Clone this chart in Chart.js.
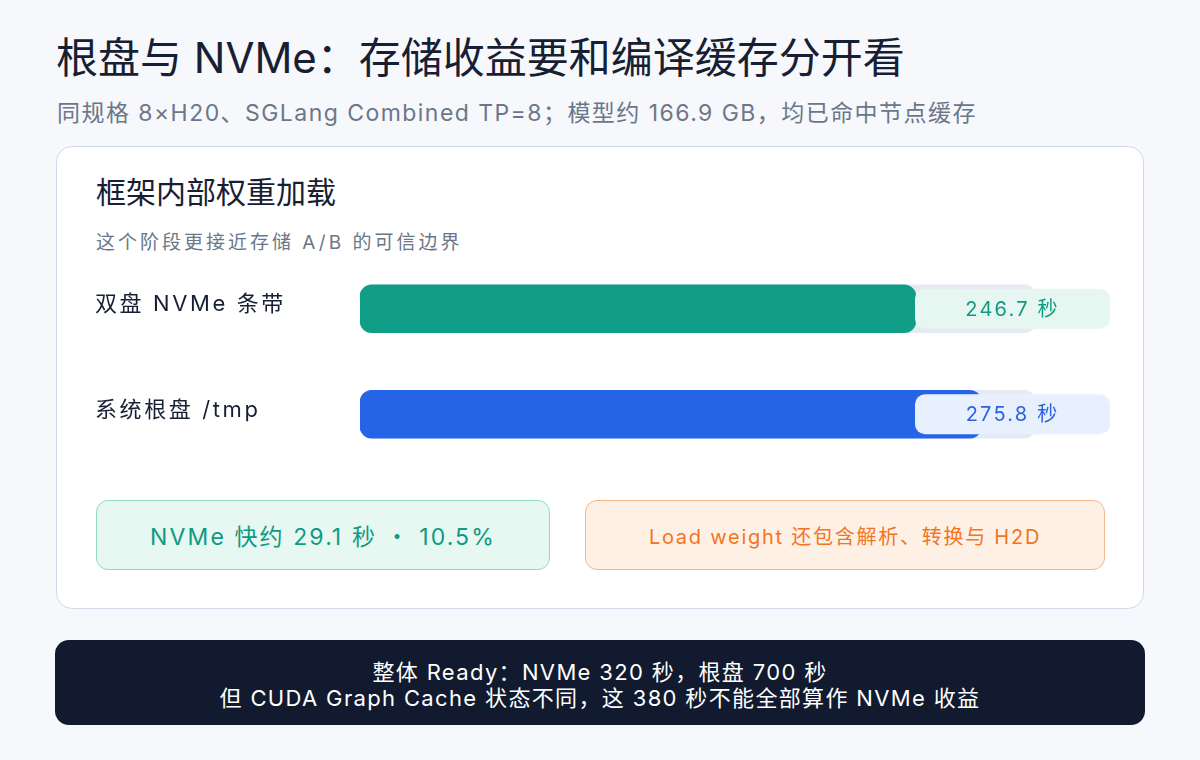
<!DOCTYPE html>
<html>
<head>
<meta charset="utf-8">
<script src="https://cdn.jsdelivr.net/npm/chart.js@4.4.1/dist/chart.umd.min.js"></script>
<style>
  html, body { margin: 0; padding: 0; }
  body {
    width: 1200px; height: 760px; position: relative; overflow: hidden;
    background: #f6f8fc;
    font-family: Inter, "Noto Sans CJK SC", sans-serif;
    color: #172033;
  }
  .abs { position: absolute; white-space: nowrap; }
  #title { left: 56px; top: 30px; font-size: 42px; line-height: 56px; }
  #subtitle { left: 57px; top: 98px; font-size: 23px; line-height: 30px; color: #6b7789; letter-spacing: 1.45px; }
  #card { left: 56px; top: 146px; width: 1088px; height: 463px; background: #fff;
          border: 1.5px solid #cfd9e8; border-radius: 16px; box-sizing: border-box; }
  #cardTitle { left: 96px; top: 172px; font-size: 30px; line-height: 40px; }
  #cardSub { left: 96px; top: 230px; font-size: 19px; line-height: 26px; color: #6b7789; letter-spacing: 3px; }
  .note { top: 500px; height: 70px; box-sizing: border-box; border-radius: 12px;
          display: flex; align-items: center; justify-content: center; }
  #noteA { left: 96px; width: 454px; background: #e7f7f2; border: 1.5px solid #92d9c5;
           color: #0f9a82; font-size: 23px; letter-spacing: 2.1px; }
  #noteB { left: 585px; width: 520px; background: #fff0e6; border: 1.5px solid #f6b587;
           color: #f27522; font-size: 20px; letter-spacing: 1.75px; }
  #banner { left: 55px; top: 640px; width: 1090px; height: 85px; background: #111a2e; border-radius: 14px;
            color: #fff; font-size: 22px; line-height: 26px; text-align: center; letter-spacing: 1.35px;
            display: flex; flex-direction: column; justify-content: center; padding-top: 4px; box-sizing: border-box; }
  #chart { position: absolute; left: 0; top: 0; pointer-events: none; }
</style>
</head>
<body>
<div id="title" class="abs">根盘与 NVMe：存储收益要和编译缓存分开看</div>
<div id="subtitle" class="abs">同规格 8×H20、SGLang Combined TP=8；模型约 166.9 GB，均已命中节点缓存</div>
<div id="card" class="abs"></div>
<div id="cardTitle" class="abs">框架内部权重加载</div>
<div id="cardSub" class="abs">这个阶段更接近存储 A/B 的可信边界</div>
<div id="noteA" class="abs note">NVMe 快约 29.1 秒 ・ 10.5%</div>
<div id="noteB" class="abs note">Load weight 还包含解析、转换与 H2D</div>
<div id="banner" class="abs">
  <div>整体 Ready：NVMe 320 秒，根盘 700 秒</div>
  <div>但 CUDA Graph Cache 状态不同，这 380 秒不能全部算作 NVMe 收益</div>
</div>
<canvas id="chart" width="1200" height="760"></canvas>
<script>
// Data
const categories = ['双盘 NVMe 条带', '系统根盘 /tmp'];
const loadSeconds = [246.7, 275.8];
const valueLabels = ['246.7 秒', '275.8 秒'];
const axisMax = 300;

// Styles
const barColors = ['#109e88', '#2563e7'];
const pillFills = ['#e6f6f1', '#e8f0fd'];
const pillText = ['#119a83', '#2a63e2'];
const trackColor = '#e5eaf3';

// Row labels on the left and value pills on the right, placed from the y scale
const rowDecor = {
    id: 'rowDecor',
    afterDatasetsDraw(chart) {
        const ctx = chart.ctx;
        const yScale = chart.scales.y;
        const xScale = chart.scales.x;
        ctx.save();
        categories.forEach((name, i) => {
            const y = yScale.getPixelForValue(i);
            ctx.fillStyle = '#172033';
            ctx.font = '22px Inter, "Noto Sans CJK SC", sans-serif';
            ctx.letterSpacing = '2.6px';
            ctx.textAlign = 'left';
            ctx.textBaseline = 'middle';
            ctx.fillText(name, 95, y - 4);

            const px = xScale.right - 121;
            const pw = 195, ph = 40;
            ctx.fillStyle = pillFills[i];
            ctx.beginPath();
            ctx.roundRect(px, y - ph / 2, pw, ph, 10);
            ctx.fill();
            ctx.fillStyle = pillText[i];
            ctx.font = '20px Inter, "Noto Sans CJK SC", sans-serif';
            ctx.letterSpacing = '2.2px';
            ctx.textAlign = 'center';
            ctx.fillText(valueLabels[i], px + pw / 2, y + 1);
        });
        ctx.restore();
    }
};

new Chart(document.getElementById('chart'), {
    type: 'bar',
    data: {
        labels: categories,
        datasets: [{
            data: loadSeconds,
            backgroundColor: barColors,
            borderRadius: 12,
            borderSkipped: false,
            barThickness: 48,
            order: 0
        }, {
            data: categories.map(() => axisMax),
            backgroundColor: trackColor,
            borderRadius: 12,
            borderSkipped: false,
            barThickness: 48,
            order: 1
        }]
    },
    options: {
        indexAxis: 'y',
        responsive: false,
        animation: false,
        devicePixelRatio: 1,
        layout: { padding: { left: 360, right: 164, top: 256, bottom: 293 } },
        datasets: { bar: { grouped: false } },
        plugins: { legend: { display: false }, tooltip: { enabled: false } },
        scales: {
            x: { display: false, min: 0, max: axisMax },
            y: { display: false }
        }
    },
    plugins: [rowDecor]
});
</script>
</body>
</html>
